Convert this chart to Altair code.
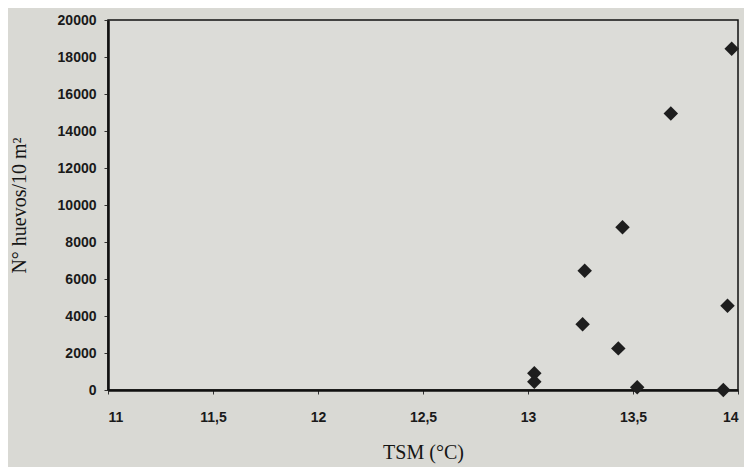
import altair as alt
import pandas as pd

tsm = [13.03, 13.03, 13.27, 13.26, 13.43, 13.45, 13.52, 13.68, 13.93, 13.95, 13.97]
huevos = [900, 450, 6450, 3550, 2250, 8800, 150, 14950, 0, 4550, 18450]

df = pd.DataFrame({"tsm": tsm, "huevos": huevos})

points = alt.Chart(df).mark_point(
    shape="diamond", filled=True, color="#1e1e1e", size=210, opacity=1
).encode(
    x=alt.X("tsm:Q",
            scale=alt.Scale(domain=[11, 14], nice=False, zero=False),
            axis=alt.Axis(values=[11, 11.5, 12, 12.5, 13, 13.5, 14],
                          labelExpr="replace(toString(datum.value), '.', ',')",
                          title="TSM (°C)", grid=False,
                          domainColor="#111", domainWidth=2.5,
                          tickColor="#333", tickSize=4, tickWidth=1,
                          labelFont="Liberation Sans", labelFontSize=14,
                          labelFontWeight="bold",
                          labelColor="#1a1a1a", labelPadding=16,
                          titleFont="Liberation Serif", titleFontSize=20,
                          titleFontWeight="normal", titleColor="#151515",
                          titlePadding=18)),
    y=alt.Y("huevos:Q",
            scale=alt.Scale(domain=[0, 20000], nice=False),
            axis=alt.Axis(values=list(range(0, 20001, 2000)),
                          format="d",
                          title="N° huevos/10 m²", grid=False,
                          domainColor="#111", domainWidth=2.5,
                          tickColor="#333", tickSize=4, tickWidth=1,
                          labelFont="Liberation Sans", labelFontSize=14,
                          labelFontWeight="bold",
                          labelColor="#1a1a1a", labelPadding=8,
                          titleFont="Liberation Serif", titleFontSize=20,
                          titleFontWeight="normal", titleColor="#151515",
                          titlePadding=28)),
)

chart = points.properties(
    width=630, height=370,
    background="#d9d9d4",
    autosize=alt.AutoSizeParams(type="none"),
    padding={"left": 100, "top": 12, "right": 6, "bottom": 77},
).configure_view(
    stroke="#111", strokeWidth=1.5, fill="#dcdcd8"
)

chart.save("out.html", embed_options={"renderer": "svg", "actions": False})
